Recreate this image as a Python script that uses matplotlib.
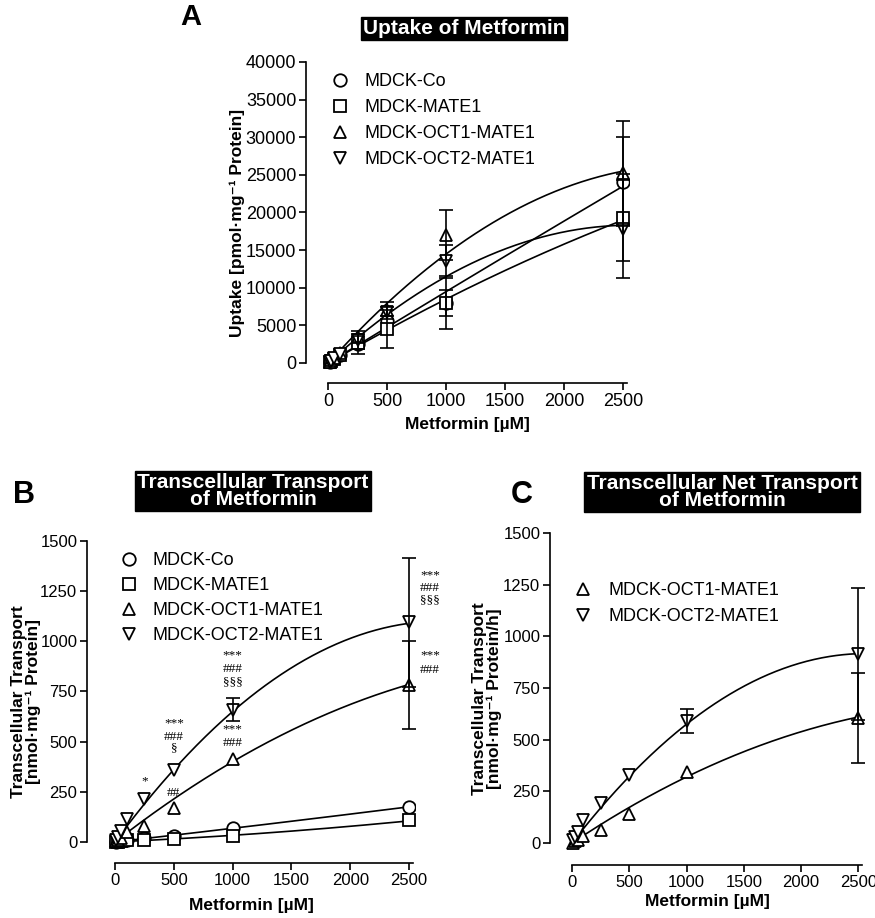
import numpy as np
import matplotlib
matplotlib.use('Agg')
import matplotlib.pyplot as plt

plt.rcParams['font.family'] = ['Liberation Sans', 'DejaVu Sans']

W, H = 875, 918

conc = np.array([10, 25, 50, 100, 250, 500, 1000, 2500])
names = ['MDCK-Co', 'MDCK-MATE1', 'MDCK-OCT1-MATE1', 'MDCK-OCT2-MATE1']
markers = ['o', 's', '^', 'v']

# panel A: uptake [pmol/mg protein]
uptake = {
    'MDCK-Co': [100, 250, 550, 1100, 2500, 5600, 8000, 24100],
    'MDCK-MATE1': [80, 220, 500, 1000, 2700, 4500, 8000, 19300],
    'MDCK-OCT1-MATE1': [150, 350, 700, 1300, 3500, 7000, 17000, 25300],
    'MDCK-OCT2-MATE1': [130, 300, 650, 1200, 3000, 6800, 13500, 17800],
}
uptake_sd = {
    'MDCK-Co': [0, 0, 0, 0, 1300, 0, 3500, 5900],
    'MDCK-MATE1': [0, 0, 0, 0, 900, 2550, 1700, 5800],
    'MDCK-OCT1-MATE1': [0, 0, 0, 0, 750, 1150, 3300, 6900],
    'MDCK-OCT2-MATE1': [0, 0, 0, 0, 0, 600, 2200, 6500],
}
# fitted curves, y = a*x + b*x^2
uptake_fit = {
    'MDCK-Co': (9.567, -6.67e-5),
    'MDCK-MATE1': (9.1, -6.0e-4),
    'MDCK-OCT1-MATE1': (17.367, -2.867e-3),
    'MDCK-OCT2-MATE1': (14.287, -2.787e-3),
}

# panel B: transcellular transport [nmol/mg protein]
transport = {
    'MDCK-Co': [1, 3, 5, 10, 20, 30, 70, 175],
    'MDCK-MATE1': [1, 2, 4, 8, 10, 17, 32, 108],
    'MDCK-OCT1-MATE1': [5, 10, 20, 50, 80, 170, 412, 782],
    'MDCK-OCT2-MATE1': [10, 25, 53, 113, 213, 357, 660, 1094],
}
transport_sd = {
    'MDCK-Co': [0] * 8,
    'MDCK-MATE1': [0] * 8,
    'MDCK-OCT1-MATE1': [0, 0, 0, 0, 0, 0, 0, 218],
    'MDCK-OCT2-MATE1': [0, 0, 0, 0, 0, 0, 58, 320],
}
transport_fit = {
    'MDCK-Co': (0.0667, 1.33e-6),
    'MDCK-MATE1': (0.027, 6.0e-6),
    'MDCK-OCT1-MATE1': (0.4573, -5.73e-5),
    'MDCK-OCT2-MATE1': (0.7927, -1.427e-4),
}
# significance marks (x, y, text)
sig_marks = [
    (250, 300, '*'), (500, 243, '##'),
    (500, 593, '***'), (500, 523, '###'), (500, 468, '§'),
    (1000, 932, '***'), (1000, 862, '###'), (1000, 797, '§§§'),
    (1000, 563, '***'), (1000, 493, '###'),
    (2676, 1330, '***'), (2676, 1265, '###'), (2676, 1206, '§§§'),
    (2676, 932, '***'), (2676, 857, '###'),
]

# panel C: net transport [nmol/mg protein/h]
net = {
    'MDCK-OCT1-MATE1': [0, 10, 15, 32, 61, 142, 344, 606],
    'MDCK-OCT2-MATE1': [15, 30, 53, 110, 194, 327, 589, 916],
}
net_sd = {
    'MDCK-OCT1-MATE1': [0, 0, 0, 0, 0, 0, 0, 218],
    'MDCK-OCT2-MATE1': [0, 0, 0, 0, 0, 0, 58, 320],
}
net_fit = {
    'MDCK-OCT1-MATE1': (0.3707, -5.07e-5),
    'MDCK-OCT2-MATE1': (0.714, -1.39e-4),
}


def px_axes(fig, left, right, top, bottom):
    return fig.add_axes([left / W, 1 - bottom / H, (right - left) / W, (bottom - top) / H])


def draw_series(ax, y, sd, fit, marker):
    y = np.asarray(y, float)
    sd = np.asarray(sd, float)
    xs = np.linspace(0, conc[-1], 300)
    ax.plot(xs, fit[0] * xs + fit[1] * xs ** 2, color='black', lw=1.2, zorder=2)
    ms = 8 if marker == 's' else 9
    h, = ax.plot(conc, y, ls='none', marker=marker, ms=ms, mfc='white',
                 mec='black', mew=1.3, zorder=3)
    m = sd > 0
    if m.any():
        ax.errorbar(conc[m], y[m], yerr=sd[m], fmt='none', ecolor='black',
                    elinewidth=1.2, capsize=5, capthick=1.2, zorder=4)
    return h


def style(ax, ylim, ymax, ystep, labelsize=13):
    ax.set_xlim(ax.get_xlim()[0], 2550)
    ax.set_ylim(*ylim)
    ax.spines['top'].set_visible(False)
    ax.spines['right'].set_visible(False)
    for s in ['left', 'bottom']:
        ax.spines[s].set_linewidth(1.2)
    ax.spines['left'].set_bounds(0, ymax)
    ax.spines['bottom'].set_bounds(0, 2530)
    ax.set_xticks(range(0, 2501, 500))
    ax.set_yticks(np.arange(0, ymax + 1, ystep))
    ax.tick_params(direction='out', length=5, width=1.2, labelsize=labelsize, pad=2)


def title_box(fig, x, y, text):
    fig.text(x / W, 1 - y / H, text, ha='center', va='center', color='white',
             fontsize=15, fontweight='bold', linespacing=0.9,
             bbox=dict(facecolor='black', edgecolor='black', boxstyle='square,pad=0.1'))


fig = plt.figure(figsize=(W / 100, H / 100), dpi=100)

# ---- A
axA = px_axes(fig, 306, 629, 62, 383)
axA.set_xlim(-190, 2550)
handles = []
for n, mk in zip(names, markers):
    handles.append(draw_series(axA, uptake[n], uptake_sd[n], uptake_fit[n], mk))
style(axA, (-2660, 40000), 40000, 5000)
axA.set_ylabel('Uptake [pmol·mg⁻¹ Protein]', fontsize=12.5, fontweight='bold')
axA.yaxis.set_label_coords(-0.19, 0.5)
axA.set_xlabel('Metformin [µM]', fontsize=12.5, fontweight='bold', va='top')
axA.xaxis.set_label_coords(0.5, -0.105)
axA.legend(handles, names, loc='upper left', bbox_to_anchor=(0.077, 0.966),
           frameon=False, fontsize=13, handlelength=1.0, handletextpad=0.89,
           labelspacing=0.5, borderaxespad=0, borderpad=0)
title_box(fig, 464, 28.5, 'Uptake of Metformin')
fig.text(191 / W, 1 - 17 / H, 'A', fontsize=21, fontweight='bold', ha='center', va='center')

# ---- B
axB = px_axes(fig, 87, 415, 541, 863)
axB.set_xlim(-238, 2550)
handles = []
for n, mk in zip(names, markers):
    handles.append(draw_series(axB, transport[n], transport_sd[n], transport_fit[n], mk))
style(axB, (-105, 1500), 1500, 250, labelsize=12)
axB.set_ylabel('Transcellular Transport\n[nmol·mg⁻¹ Protein]', fontsize=12.5,
               fontweight='bold', linespacing=1.0)
axB.yaxis.set_label_coords(-0.14, 0.5)
axB.set_xlabel('Metformin [µM]', fontsize=12.5, fontweight='bold', va='top')
axB.xaxis.set_label_coords(0.5, -0.108)
axB.legend(handles, names, loc='upper left', bbox_to_anchor=(0.1006, 0.966),
           frameon=False, fontsize=13, handlelength=1.0, handletextpad=0.78,
           labelspacing=0.45, borderaxespad=0, borderpad=0)
for x, y, t in sig_marks:
    axB.text(x, y, t, ha='center', va='center', fontsize=9.5,
             family=['Liberation Serif', 'DejaVu Serif'], clip_on=False)
title_box(fig, 253, 491, 'Transcellular Transport\nof Metformin')
fig.text(24 / W, 1 - 495 / H, 'B', fontsize=22, fontweight='bold', ha='center', va='center')

# ---- C
axC = px_axes(fig, 550, 864, 533, 865)
axC.set_xlim(-192, 2550)
handles = []
for n, mk in zip(names[2:], markers[2:]):
    handles.append(draw_series(axC, net[n], net_sd[n], net_fit[n], mk))
style(axC, (-106, 1500), 1500, 250, labelsize=12)
axC.set_ylabel('Transcellular Transport\n[nmol·mg⁻¹ Protein/h]', fontsize=12.5,
               fontweight='bold', linespacing=1.0)
axC.yaxis.set_label_coords(-0.153, 0.5)
axC.set_xlabel('Metformin [µM]', fontsize=12.5, fontweight='bold', va='top')
axC.xaxis.set_label_coords(0.5, -0.088)
axC.legend(handles, names[2:], loc='upper left', bbox_to_anchor=(0.0765, 0.852),
           frameon=False, fontsize=13, handlelength=1.0, handletextpad=0.89,
           labelspacing=0.5, borderaxespad=0, borderpad=0)
title_box(fig, 722, 492, 'Transcellular Net Transport\nof Metformin')
fig.text(522 / W, 1 - 495 / H, 'C', fontsize=22, fontweight='bold', ha='center', va='center')

fig.savefig('out.png', dpi=100)
